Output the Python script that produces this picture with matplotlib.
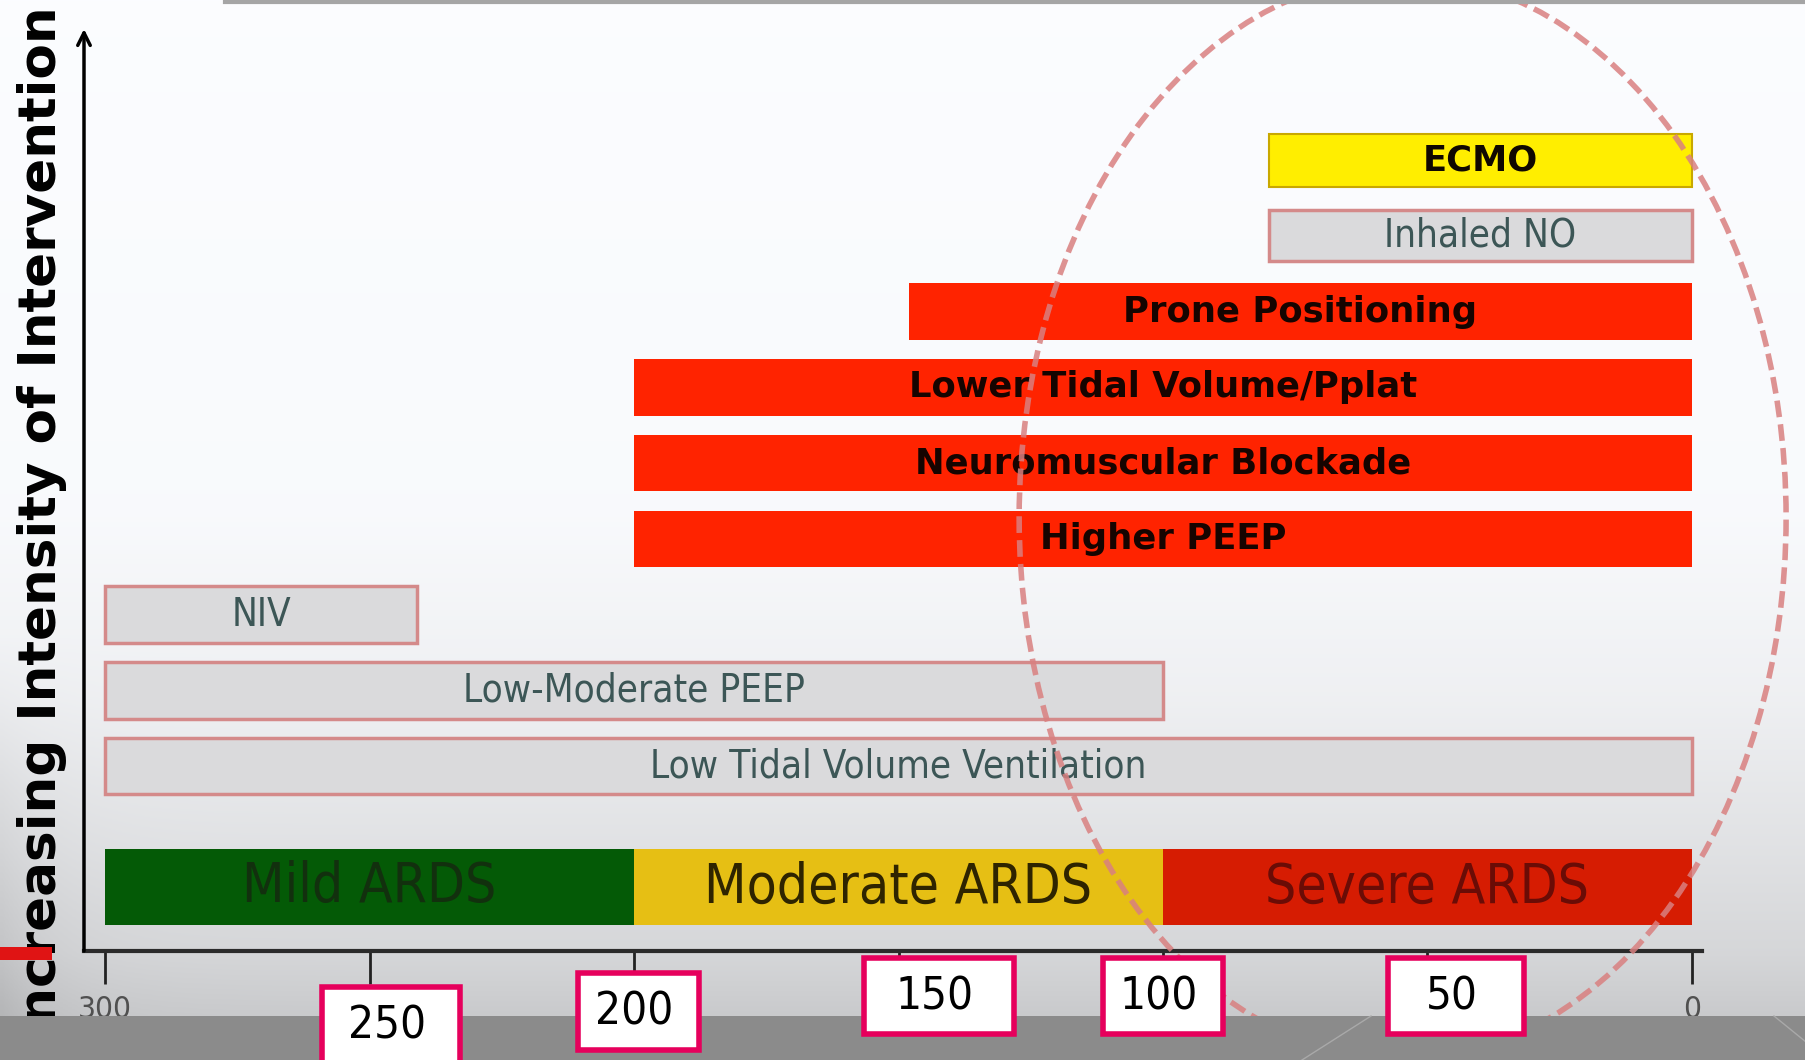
import numpy as np
import matplotlib
matplotlib.use('Agg')
import matplotlib.pyplot as plt
from matplotlib import font_manager
from matplotlib.patches import Rectangle, Ellipse
from matplotlib.lines import Line2D

# ---- data (PaO2/FiO2 ranges) ----
severity_labels = ['Mild ARDS', 'Moderate ARDS', 'Severe ARDS']
severity_from = [300, 200, 100]
severity_to = [200, 100, 0]
severity_colors = ['#045a06', '#e6bf14', '#d61c02']
severity_text_colors = ['#12300e', '#2e2400', '#6a0c06']

# interventions, listed bottom to top
interventions = ['Low Tidal Volume Ventilation', 'Low-Moderate PEEP', 'NIV',
                 'Higher PEEP', 'Neuromuscular Blockade', 'Lower Tidal Volume/Pplat',
                 'Prone Positioning', 'Inhaled NO', 'ECMO']
interv_from = [300, 300, 300, 200, 200, 200, 148, 80, 80]
interv_to = [0, 100, 241, 0, 0, 0, 0, 0, 0]
interv_kind = ['grey', 'grey', 'grey', 'red', 'red', 'red', 'red', 'grey', 'yellow']

tick_values = [300, 250, 200, 150, 100, 50, 0]
callout_labels = ['250', '200', '150', '100', '50']

W, H = 1806, 1060

# ---- fonts: a narrow sans if there is one ----
fonts = font_manager.fontManager.ttflist
names = {f.name for f in fonts}
if 'Liberation Sans Narrow' in names:
    narrow = dict(family='Liberation Sans Narrow')
    k = 1.0
elif any(f.name == 'DejaVu Sans' and f.stretch == 'condensed' for f in fonts):
    narrow = dict(family='DejaVu Sans', fontstretch='condensed')
    k = 0.84
else:
    narrow = dict(family='DejaVu Sans')
    k = 0.75


def px(x, y):
    # full-size pixel (from top-left) -> figure fraction
    return x / W, 1 - y / H


fig = plt.figure(figsize=(W / 100, H / 100), dpi=100)

# background: white at the top fading to light grey near the axis
bg = fig.add_axes([0, 0, 1, 1], zorder=-10)
rows = np.linspace(0, 1, 400)
cols = np.linspace(0, 1, 400)
shade = np.interp(rows, [0, 0.48, 0.66, 0.80, 0.9, 0.96, 1.0],
                  [1.0, 0.99, 0.95, 0.895, 0.85, 0.80, 0.78])
left_dark = 1 - 0.10 * np.exp(-cols / 0.03)[None, :] * np.clip((rows - 0.6) / 0.35, 0, 1)[:, None]
img = shade[:, None] * left_dark
bg.imshow(np.dstack([img * 0.985, img * 0.99, img]), aspect='auto', extent=[0, 1, 0, 1],
          origin='upper')
bg.set_axis_off()

# main axes, x = PaO2/FiO2 (reversed), y = rows
left, right = px(84, 0)[0], px(1702, 0)[0]
bottom, top = px(0, 951)[1], px(0, 29)[1]
ax = fig.add_axes([left, bottom, right - left, top - bottom])
ax.patch.set_alpha(0)
ax.set_xlim(304, -1.9)
ax.set_ylim(-1.44, 10.73)

# severity band
for lab, a, b, c, tc in zip(severity_labels, severity_from, severity_to,
                            severity_colors, severity_text_colors):
    ax.barh(-0.6, a - b, left=b, height=1.0, color=c, zorder=2)
    ax.text((a + b) / 2, -0.6, lab, ha='center', va='center', fontsize=47 * k,
            color=tc, zorder=3, **narrow)

# intervention bars
for i, (lab, a, b, kind) in enumerate(zip(interventions, interv_from, interv_to, interv_kind)):
    y = i + 1
    if kind == 'red':
        ax.barh(y, a - b, left=b, height=0.745, color='#ff2300', zorder=2)
        ax.text((a + b) / 2, y, lab, ha='center', va='center', fontsize=25.5,
                fontweight='bold', color='#160400', zorder=3)
    elif kind == 'yellow':
        ax.barh(y, a - b, left=b, height=0.70, color='#ffee00', edgecolor='#c9a800',
                linewidth=1.5, zorder=2)
        ax.text((a + b) / 2, y, lab, ha='center', va='center', fontsize=25.5,
                fontweight='bold', color='#100800', zorder=3)
    else:
        hgt = 0.67 if lab == 'Inhaled NO' else 0.745
        ax.barh(y, a - b, left=b, height=hgt, color='#dadadc', edgecolor='#d48a8a',
                linewidth=2.5, zorder=2)
        ax.text((a + b) / 2, y, lab, ha='center', va='center', fontsize=33 * k,
                color='#3c5656', zorder=3, **narrow)

# dashed ellipse around the severe region
ax.add_patch(Ellipse((54.7, 4.28), 145, 14.3, fill=False, edgecolor='#d98080',
                     linewidth=4, linestyle=(0, (3, 1.3)), alpha=0.85,
                     zorder=4, clip_on=False))

# axes styling
for s in ['top', 'right', 'left']:
    ax.spines[s].set_visible(False)
ax.spines['bottom'].set_linewidth(3)
ax.spines['bottom'].set_color('#2b2b2b')
ax.set_yticks([])
ax.set_xticks(tick_values)
# the inner values are shown in the callout boxes below
ax.set_xticklabels([str(t) if t in (300, 0) else '' for t in tick_values])
ax.tick_params(axis='x', length=24, width=2, color='#222222', pad=8,
               labelsize=27 * k, labelcolor='#505050')
for t in ax.get_xticklabels():
    t.set(**narrow)

ax.annotate('', xy=(0, 1), xytext=(0, 0), xycoords='axes fraction',
            arrowprops=dict(arrowstyle='->,head_length=0.9,head_width=0.45',
                            lw=2.5, color='black', shrinkA=0, shrinkB=0))

# y label (its first letter is cut off by the footer band)
fig.text(*px(56, 6), 'Increasing Intensity of Intervention', rotation=90,
         rotation_mode='anchor', ha='right', va='baseline', fontsize=37.2,
         fontweight='bold', color='black', zorder=0.5)

# footer band and small screen details
fig.add_artist(Rectangle((0, 0), 1, 44 / H, transform=fig.transFigure,
                         facecolor='#8b8b8b', edgecolor='none', zorder=2))
fig.add_artist(Line2D([1302 / W, 1371 / W], [0, 44 / H], transform=fig.transFigure,
                      color='#a9a9a9', lw=1, zorder=2.1))
fig.add_artist(Line2D([1774 / W, 1806 / W], [44 / H, 18 / H], transform=fig.transFigure,
                      color='#a9a9a9', lw=1, zorder=2.1))
fig.add_artist(Rectangle(px(0, 960), 52 / W, 13 / H, transform=fig.transFigure,
                         facecolor='#e01414', edgecolor='none', zorder=2))
fig.add_artist(Line2D([225 / W, 1], [1 - 2 / H, 1 - 2 / H], transform=fig.transFigure,
                      color='#a5a5a5', lw=3, zorder=2))

# pink callout boxes with the tick values
boxes = [(322, 987, 460, 1075), (578, 973, 699, 1050), (864, 958, 1014, 1034),
         (1103, 958, 1223, 1034), (1388, 958, 1524, 1034)]
for lab, (x0, y0, x1, y1) in zip(callout_labels, boxes):
    fig.add_artist(Rectangle(px(x0, y1), (x1 - x0) / W, (y1 - y0) / H,
                             transform=fig.transFigure, facecolor='white',
                             edgecolor='#e6005c', linewidth=4, zorder=3))
    cx, cy = px((x0 + x1) / 2 - 4, min(y0 + 39, 1027))
    fig.text(cx, cy, lab, ha='center', va='center', fontsize=39 * k,
             color='black', zorder=4, **narrow)

fig.savefig('out.png', dpi=100)
